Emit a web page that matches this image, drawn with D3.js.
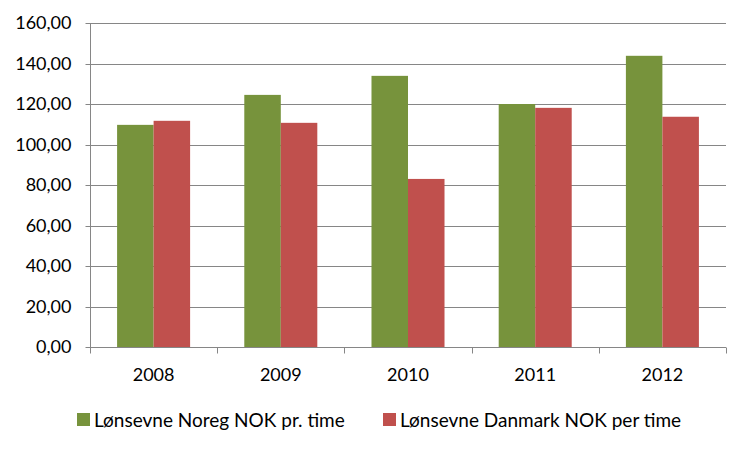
<!DOCTYPE html>
<html><head><meta charset="utf-8">
<script src="https://cdn.jsdelivr.net/npm/d3@7"></script>
<style>body{margin:0;background:#fff}text{font-family:Lato,"Open Sans",sans-serif;fill:#000}</style>
</head><body><svg id="c" width="750" height="450"></svg>
<script>
const years = ["2008","2009","2010","2011","2012"];
const seriesNames = ["Lønsevne Noreg NOK pr. time","Lønsevne Danmark NOK per time"];
const noreg = [109.7, 124.5, 133.9, 120.0, 143.8];
const danmark = [111.7, 110.7, 83.0, 118.1, 113.7];
const yTicks = [0,20,40,60,80,100,120,140,160];
const colors = ["#77933C","#C0504D"];

const svg = d3.select("#c");
const L = 90, R = 726, T = 23, B = 347;
const x0 = d3.scaleBand().domain(years).range([L, R]);
const off = x0.step() * 0.213;
const x1 = d3.scaleBand().domain([0,1]).range([off, x0.step() - off]);
const y = d3.scaleLinear().domain([0,160]).range([B, T]);
const fmt = v => d3.format(".2f")(v).replace(".", ",");
const grey = "#868686";

// gridlines
svg.append("g").selectAll("line").data(yTicks.filter(t => t > 0)).join("line")
  .attr("x1", L).attr("x2", R).attr("y1", d => Math.round(y(d)) + 0.5).attr("y2", d => Math.round(y(d)) + 0.5)
  .attr("stroke", grey).attr("stroke-width", 1);

// bars
const data = years.map((yr, i) => ({yr, vals: [noreg[i], danmark[i]]}));
const g = svg.append("g").selectAll("g").data(data).join("g")
  .attr("transform", d => `translate(${x0(d.yr)},0)`);
g.selectAll("rect").data(d => d.vals.map((v, k) => ({v, k}))).join("rect")
  .attr("x", d => x1(d.k)).attr("width", x1.bandwidth())
  .attr("y", d => y(d.v)).attr("height", d => B - y(d.v))
  .attr("fill", d => colors[d.k]);

// y axis
const ya = svg.append("g").attr("transform", `translate(${L + 0.5},0)`)
  .call(d3.axisLeft(y).tickValues(yTicks).tickFormat(fmt).tickSize(5).tickPadding(14));
ya.selectAll("line").attr("stroke", grey);
ya.select(".domain").attr("stroke", grey).attr("d", `M0,${T}V${B}`);
ya.selectAll("text").attr("font-size", 18).attr("font-family", "Lato");
ya.selectAll(".tick").attr("transform", d => `translate(0,${Math.round(y(d)) + 0.5})`);

// x axis
const xa = svg.append("g").attr("transform", `translate(0,${B + 0.5})`);
xa.append("line").attr("x1", L).attr("x2", R).attr("stroke", grey);
xa.selectAll("line.t").data(d3.range(years.length + 1)).join("line").attr("class","t")
  .attr("x1", i => Math.round(L + i * x0.step()) + 0.5).attr("x2", i => Math.round(L + i * x0.step()) + 0.5)
  .attr("y1", 0).attr("y2", 6).attr("stroke", grey);
xa.selectAll("text").data(years).join("text")
  .attr("x", d => x0(d) + x0.bandwidth() / 2).attr("y", 33)
  .attr("text-anchor", "middle").attr("font-size", 18).text(d => d);

// legend
const legX = [77, 383];
const lg = svg.append("g").selectAll("g").data(seriesNames).join("g")
  .attr("transform", (d, i) => `translate(${legX[i]},413)`);
lg.append("rect").attr("width", 13).attr("height", 13).attr("fill", (d, i) => colors[i]);
lg.append("text").attr("x", 17).attr("y", 14).attr("font-size", 19).text(d => d);
</script></body></html>
